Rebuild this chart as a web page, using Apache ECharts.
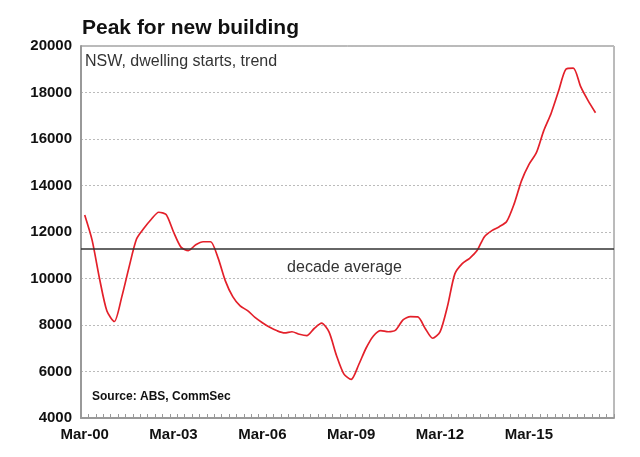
<!DOCTYPE html>
<html>
<head>
<meta charset="utf-8">
<script src="https://cdn.jsdelivr.net/npm/echarts@6/dist/echarts.min.js"></script>
<style>
html,body{margin:0;padding:0;background:#fff;}
#chart{width:640px;height:457px;}
</style>
</head>
<body>
<div id="chart"></div>
<script>
// Quarter labels (Mar-00 .. Dec-17)
var quarterMonths = ['Mar', 'Jun', 'Sep', 'Dec'];
var years = ['00','01','02','03','04','05','06','07','08','09','10','11','12','13','14','15','16','17'];
var categories = [];
years.forEach(function (y) { quarterMonths.forEach(function (m) { categories.push(m + '-' + y); }); });

// NSW dwelling starts, trend (Mar-00 .. Jun-17)
var dwellingStarts = [
  12730, 11650, 10000, 8600, 8150, 9200, 10500, 11700,
  12160, 12550, 12850, 12750, 12000, 11350, 11200, 11450,
  11580, 11580, 10900, 9900, 9220, 8820, 8620, 8330,
  8100, 7900, 7750, 7660, 7710, 7600, 7540, 7850,
  8080, 7700, 6700, 5900, 5660, 6280, 7000, 7530,
  7760, 7710, 7780, 8220, 8360, 8350, 7850, 7430,
  7700, 8800, 10200, 10640, 10870, 11200, 11800, 12060,
  12230, 12450, 13200, 14200, 14900, 15400, 16350, 17100,
  18050, 19000, 19050, 18250, 17650, 17130
];
var decadeAverage = 11270;
var yTicks = [4000, 6000, 8000, 10000, 12000, 14000, 16000, 18000, 20000];

var FONT = 'Liberation Sans, Arial, sans-serif';
var chart = echarts.init(document.getElementById('chart'), null, {renderer: 'canvas'});
chart.setOption({
  animation: false,
  backgroundColor: '#fff',
  textStyle: {fontFamily: FONT},
  title: [{
    text: 'Peak for new building',
    left: 77, top: 13,
    textStyle: {fontSize: 21, fontWeight: 'bold', color: '#111', fontFamily: FONT}
  }],
  grid: {left: 81, right: 26, top: 46, bottom: 39, show: true, borderColor: '#777', borderWidth: 1, backgroundColor: 'transparent'},
  xAxis: {
    type: 'category',
    data: categories,
    boundaryGap: true,
    axisLine: {lineStyle: {color: '#999', width: 2}},
    axisTick: {show: true, inside: true, length: 4, interval: 0, lineStyle: {color: '#999'}},
    axisLabel: {interval: 11, margin: 9, fontSize: 15, fontWeight: 'bold', color: '#111'},
    splitLine: {show: false}
  },
  yAxis: {
    type: 'value',
    min: yTicks[0], max: yTicks[yTicks.length - 1], interval: 2000,
    axisLine: {show: true, lineStyle: {color: '#999', width: 2}},
    axisTick: {show: false},
    axisLabel: {margin: 9, fontSize: 15, fontWeight: 'bold', color: '#111', formatter: function (v) { return String(v); }},
    splitLine: {show: true, lineStyle: {color: '#bbb', type: [2, 2], width: 1}}
  },
  series: [{
    type: 'line',
    data: dwellingStarts,
    symbol: 'none',
    smooth: 0.25,
    lineStyle: {color: '#e3202a', width: 1.7},
    markLine: {
      silent: true,
      symbol: ['none', 'none'],
      data: [{yAxis: decadeAverage}],
      lineStyle: {color: '#333', type: 'solid', width: 1.5},
      label: {show: true, position: 'insideMiddleBottom', formatter: 'decade average', fontSize: 16, color: '#333', distance: 11, offset: [-3, 0]}
    }
  }],
  graphic: [
    {type: 'text', left: 85, top: 54, style: {text: 'NSW, dwelling starts, trend', fontSize: 16, fill: '#333', fontFamily: FONT}},
    {type: 'text', left: 92, top: 391, style: {text: 'Source: ABS, CommSec', fontSize: 12, fontWeight: 'bold', fill: '#111', fontFamily: FONT}}
  ]
});
</script>
</body>
</html>
